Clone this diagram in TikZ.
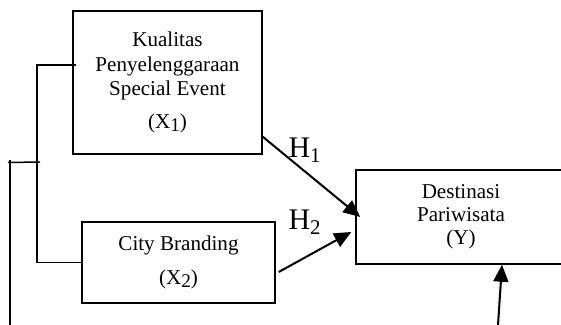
\documentclass[tikz,border=0pt]{standalone}
\usepackage{fontspec}
\setmainfont{Liberation Serif}
\usetikzlibrary{arrows.meta}
\newcommand{\lowsub}[1]{\raisebox{-0.3ex}{\fontsize{11}{11}\selectfont #1}}
\begin{document}
\begin{tikzpicture}[every node/.style={draw, line width=0.85pt, align=center,
						inner sep=0pt, font=\fontsize{12}{13.9}\selectfont},
						hyp/.style={-{Triangle[length=0.34cm,width=0.3cm]}, line width=1.15pt},
						lbl/.style={draw=none, font=\fontsize{17}{17}\selectfont}]
			\useasboundingbox (0,0) rectangle (11.22,6.5);

			\node[minimum width=3.78cm, minimum height=2.86cm] (X1) at (3.35,4.85)
				{Kualitas\\Penyelenggaraan\\Special Event\\[4.8pt](X\lowsub{1})};
			\node[minimum width=3.86cm, minimum height=1.62cm] (X2) at (3.57,1.25)
				{City Branding\\[5.4pt](X\lowsub{2})};
			\node[minimum width=4.2cm, minimum height=1.88cm,
				font=\fontsize{12}{13}\selectfont] (Y) at (9.22,2.16)
				{Destinasi\\Pariwisata\\(Y)};

			\node[lbl] (H1) at (6.10,3.50) {H\textsubscript{1}};
			\node[lbl] (H2) at (6.10,2.06) {H\textsubscript{2}};

			\coordinate (T) at (0.74,5.20);
			\coordinate (J) at (0.80,3.26);
			\coordinate (L) at (0.16,3.25);
			\coordinate (LT) at (0.20,3.30);
			\coordinate (LB) at (0.20,0);
			\coordinate (E) at (9.96,0);

			\draw[line width=0.85pt] ([xshift=0.08cm]X1.west |- T) -- (T) -- (T |- X2.west) -- (X2.west);
			\draw[line width=0.85pt] (J) -- (L);
			\draw[line width=0.85pt] (LT) -- (LB);

			\draw[hyp] ([yshift=0.36cm]X1.south east) -- ([xshift=0.1cm]Y.west);
			\draw[hyp] ([shift={(0.06,-0.19)}]X2.east) -- ([shift={(-0.08,-0.30)}]Y.west);
			\draw[hyp] (E) -- ([xshift=0.82cm]Y.south);
		\end{tikzpicture}
\end{document}
